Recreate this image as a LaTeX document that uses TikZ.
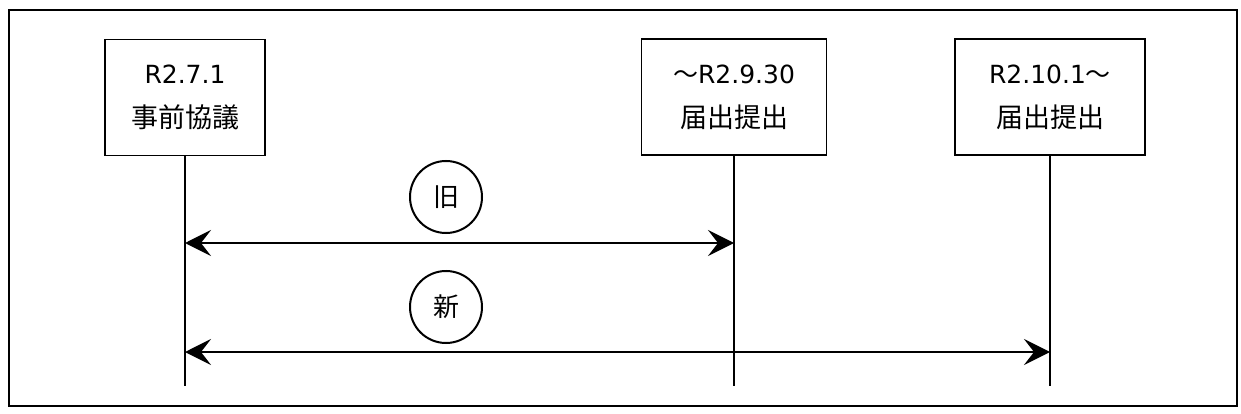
\documentclass[tikz,border=0pt]{standalone}
\usepackage{fontspec}
\setmainfont{DejaVu Sans}
\newfontfamily\cjk{Noto Sans CJK JP}
\usetikzlibrary{arrows.meta}
\begin{document}
\begin{tikzpicture}[x=1pt,y=-1pt,
  datebox/.style={draw,line width=1.3pt,minimum height=116pt,align=center,font=\fontsize{25}{44}\selectfont,inner sep=0pt},
  tl/.style={line width=2pt},
  span/.style={line width=2pt,{Stealth[length=26pt,width=26pt,inset=10pt]}-{Stealth[length=26pt,width=26pt,inset=10pt]}},
  tag/.style={draw,circle,line width=2pt,minimum size=72pt,inner sep=0pt,font=\cjk\fontsize{26}{26}\selectfont}]
\useasboundingbox (0,0) rectangle (1241,414);
\draw[line width=2.5pt] (9,10) rectangle (1237,406);
\node[datebox,minimum width=160pt] (b1) at (185,97.5) {R2.7.1\\{\cjk\fontsize{27}{44}\selectfont 事前協議}};
\node[datebox,minimum width=185pt] (b2) at (734,97) {{\cjk ～}R2.9.30\\{\cjk\fontsize{27}{44}\selectfont 届出提出}};
\node[datebox,minimum width=190pt] (b3) at (1050,97) {R2.10.1{\cjk ～}\\{\cjk\fontsize{27}{44}\selectfont 届出提出}};
\coordinate (e1) at (b1.south |- 0,386);
\coordinate (e2) at (b2.south |- 0,386);
\coordinate (e3) at (b3.south |- 0,386);
\draw[tl] (b1.south) -- (e1);
\draw[tl] (b2.south) -- (e2);
\draw[tl] (b3.south) -- (e3);
\coordinate (a1) at (b1.south |- 0,243);
\coordinate (a2) at (b2.south |- 0,243);
\coordinate (c1) at (b1.south |- 0,352);
\coordinate (c3) at (b3.south |- 0,352);
\draw[span] (a1) -- (a2);
\draw[span] (c1) -- (c3);
\node[tag] (old) at (446,197) {旧};
\node[tag] (new) at (446,307) {新};
\end{tikzpicture}
\end{document}
